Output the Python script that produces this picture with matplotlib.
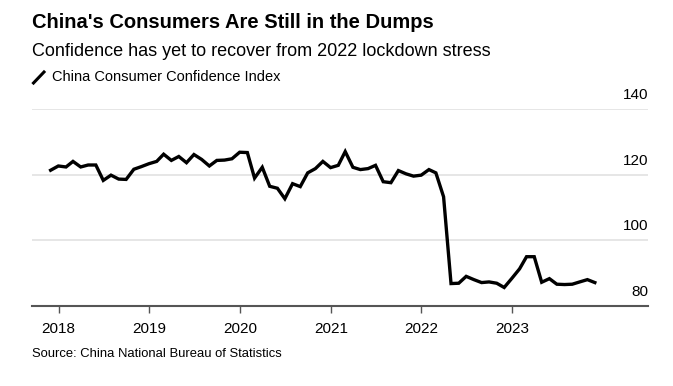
import matplotlib
matplotlib.use("Agg")
import matplotlib.pyplot as plt
import pandas as pd

# China Consumer Confidence Index, monthly, Nov 2017 - Nov 2023
start_month = "2017-11-30"
confidence = [
    121.3, 122.6,
    122.3, 124.0, 122.3, 122.9, 122.9, 118.2, 119.8, 118.6, 118.5, 121.6, 122.4, 123.3,
    124.0, 126.2, 124.3, 125.5, 123.6, 126.1, 124.6, 122.6, 124.3, 124.4, 124.8, 126.8,
    126.7, 118.9, 122.2, 116.4, 115.8, 112.6, 117.2, 116.3, 120.5, 121.8, 124.0, 122.1,
    122.8, 127.0, 122.2, 121.5, 121.8, 122.8, 117.8, 117.5, 121.2, 120.2, 119.5, 119.8,
    121.5, 120.5, 113.2, 86.7, 86.8, 88.9, 87.9, 87.0, 87.2, 86.8, 85.5, 88.3,
    91.2, 94.9, 94.9, 87.1, 88.2, 86.5, 86.4, 86.5, 87.2, 87.9, 87.0,
]
year_ticks = [2018, 2019, 2020, 2021, 2022, 2023]
y_ticks = [80, 100, 120, 140]

title = "China's Consumers Are Still in the Dumps"
subtitle = "Confidence has yet to recover from 2022 lockdown stress"
legend_label = "China Consumer Confidence Index"
source = "Source: China National Bureau of Statistics"

plt.rcParams["font.family"] = ["Liberation Sans", "DejaVu Sans"]

dates = pd.date_range(start_month, periods=len(confidence), freq="ME")

W, H = 673, 386
fig = plt.figure(figsize=(W / 100, H / 100), dpi=100)
ax = fig.add_axes([32 / W, (H - 305.5) / H, (648 - 32) / W, (305.5 - 109) / H])

for v in y_ticks[1:]:
    ax.axhline(v, color="#e1e1e1", lw=1.2, zorder=1)
ax.plot(dates, confidence, color="black", lw=2.4, solid_joinstyle="miter", zorder=3)

ax.set_ylim(80, 140)
ax.set_xlim(pd.Timestamp("2017-09-16"), pd.Timestamp("2024-07-01"))
for s in ["top", "right", "left"]:
    ax.spines[s].set_visible(False)
ax.spines["bottom"].set_color("#555555")
ax.spines["bottom"].set_linewidth(1.5)
ax.set_yticks([])
ax.set_xticks([pd.Timestamp(f"{y}-01-01") for y in year_ticks])
ax.set_xticklabels([str(y) for y in year_ticks], fontsize=11)
ax.tick_params(axis="x", length=5, width=1, color="#555555", pad=7)

for v in y_ticks:
    ax.annotate(str(v), xy=(1, v), xycoords=("axes fraction", "data"),
                xytext=(0, 5), textcoords="offset points",
                ha="right", va="bottom", fontsize=11, annotation_clip=False)

fig.text(32 / W, 1 - 23 / H, title, fontsize=14.5, fontweight="bold", va="center")
fig.text(32 / W, 1 - 52 / H, subtitle, fontsize=13, va="center")
fig.text(52 / W, 1 - 77 / H, legend_label, fontsize=10.5, va="center")
fig.add_artist(plt.Line2D([33.5 / W, 44 / W], [1 - 83 / H, 1 - 72 / H], color="black",
                          lw=2.2, transform=fig.transFigure))
fig.text(32 / W, 1 - 354 / H, source, fontsize=9.4, va="center")

fig.savefig("out.png", dpi=100, facecolor="white")
